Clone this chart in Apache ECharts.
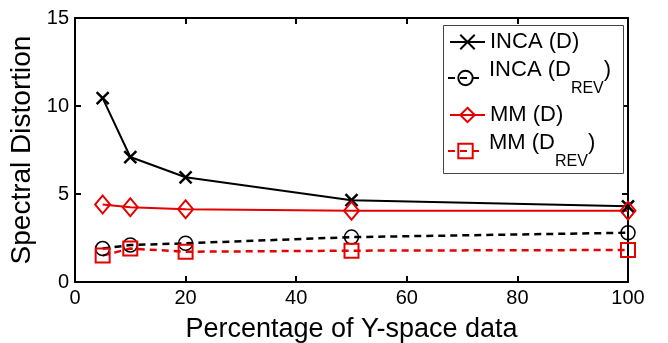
<!DOCTYPE html>
<html>
<head>
<meta charset="utf-8">
<script src="https://cdn.jsdelivr.net/npm/echarts@6/dist/echarts.min.js"></script>
<style>
html,body{margin:0;padding:0;background:#fff;}
#chart{width:668px;height:343px;}
</style>
</head>
<body>
<div id="chart"></div>
<script>
// percentage of Y-space data
var xVals = [5, 10, 20, 50, 100];
var incaD = [10.45, 7.1, 5.95, 4.65, 4.3];
var incaRev = [1.9, 2.1, 2.2, 2.55, 2.8];
var mmD = [4.4, 4.25, 4.13, 4.05, 4.05];
var mmRev = [1.5, 1.9, 1.72, 1.78, 1.82];
var seriesNames = ['INCA (D)', 'INCA (DREV)', 'MM (D)', 'MM (DREV)'];

var FONT = 'Liberation Sans';

function pairs(ys){
	var out = [];
	for(var i=0;i<xVals.length;i++){
		out.push([xVals[i], ys[i]]);
	}
	return out;
}

var crossPath = 'path://M0,0L10,10M10,0L0,10';

// one legend per entry so the uneven spacing can be matched
var legendTops = [31, 59, 104, 132];
var legendLefts = [449, 447, 449, 447];
var legends = [];
for(var i=0;i<seriesNames.length;i++){
	legends.push({
		left: legendLefts[i],
		top: legendTops[i],
		padding: 0,
		itemWidth: 35,
		itemHeight: 18,
		data: [seriesNames[i]],
		formatter: function(name){
			if(name == 'INCA (DREV)') return '{z| }{m|INCA (D}{s|REV}{m|)}';
			if(name == 'MM (DREV)') return '{z| }{m|MM (D}{s|REV}{m|)}';
			return '{n|' + name + '}';
		},
		textStyle: {
			fontFamily: FONT,
			fontSize: 22,
			color: '#000',
			rich: {
				n: {fontFamily: FONT, fontSize: 22, color: '#000', lineHeight: 22},
				z: {fontSize: 1, lineHeight: 38, width: 1},
				m: {fontFamily: FONT, fontSize: 22, color: '#000', lineHeight: 22, verticalAlign: 'top'},
				s: {fontFamily: FONT, fontSize: 16, color: '#000', lineHeight: 24, verticalAlign: 'bottom'}
			}
		}
	});
}

var myChart = echarts.init(document.getElementById('chart'));
var axisCommon = {
	type: 'value',
	axisLine: {show: true, onZero: false, lineStyle: {color: '#000', width: 2}},
	axisTick: {show: true, inside: true, length: 6, lineStyle: {color: '#000', width: 2}},
	splitLine: {show: false}
};
option = {
	animation: false,
	backgroundColor: '#fff',
	grid: {left: 75, right: 40, top: 18, bottom: 61, outerBoundsMode: 'none'},
	graphic: [{
		type: 'rect',
		left: 443,
		top: 25,
		shape: {width: 180, height: 148},
		style: {fill: '#fff', stroke: '#444', lineWidth: 1},
		z: 3
	}],
	legend: legends,
	xAxis: [
		Object.assign({}, axisCommon, {
			min: 0, max: 100, interval: 20,
			name: 'Percentage of Y-space data',
			nameLocation: 'middle',
			nameGap: 34,
			nameTextStyle: {fontFamily: FONT, fontSize: 27, color: '#000'},
			axisLabel: {fontFamily: FONT, fontSize: 20, color: '#000', margin: 6}
		}),
		Object.assign({}, axisCommon, {
			position: 'top', min: 0, max: 100, interval: 20,
			axisLabel: {show: false}
		})
	],
	yAxis: [
		Object.assign({}, axisCommon, {
			min: 0, max: 15, interval: 5,
			name: 'Spectral Distortion',
			nameLocation: 'middle',
			nameGap: 37,
			nameTextStyle: {fontFamily: FONT, fontSize: 28, color: '#000'},
			axisLabel: {fontFamily: FONT, fontSize: 20, color: '#000', margin: 6}
		}),
		Object.assign({}, axisCommon, {
			position: 'right', min: 0, max: 15, interval: 5,
			axisLabel: {show: false}
		})
	],
	series: [
		{
			name: 'INCA (D)',
			type: 'line',
			data: pairs(incaD),
			symbol: crossPath,
			symbolSize: 12,
			lineStyle: {color: '#000', width: 2},
			itemStyle: {color: '#000', borderColor: '#000', borderWidth: 2.5}
		},
		{
			name: 'INCA (DREV)',
			type: 'line',
			data: pairs(incaRev),
			symbol: 'circle',
			symbolSize: 14,
			lineStyle: {color: '#000', width: 2.5, type: [7, 5]},
			itemStyle: {color: 'rgba(0,0,0,0)', borderColor: '#000', borderWidth: 1.5}
		},
		{
			name: 'MM (D)',
			type: 'line',
			data: pairs(mmD),
			symbol: 'diamond',
			symbolSize: [15, 18],
			lineStyle: {color: '#e60000', width: 2},
			itemStyle: {color: 'rgba(0,0,0,0)', borderColor: '#e60000', borderWidth: 2}
		},
		{
			name: 'MM (DREV)',
			type: 'line',
			data: pairs(mmRev),
			symbol: 'rect',
			symbolSize: 14,
			lineStyle: {color: '#e60000', width: 2.5, type: [7, 5]},
			itemStyle: {color: 'rgba(0,0,0,0)', borderColor: '#e60000', borderWidth: 2}
		}
	]
};
myChart.setOption(option);
</script>
</body>
</html>
